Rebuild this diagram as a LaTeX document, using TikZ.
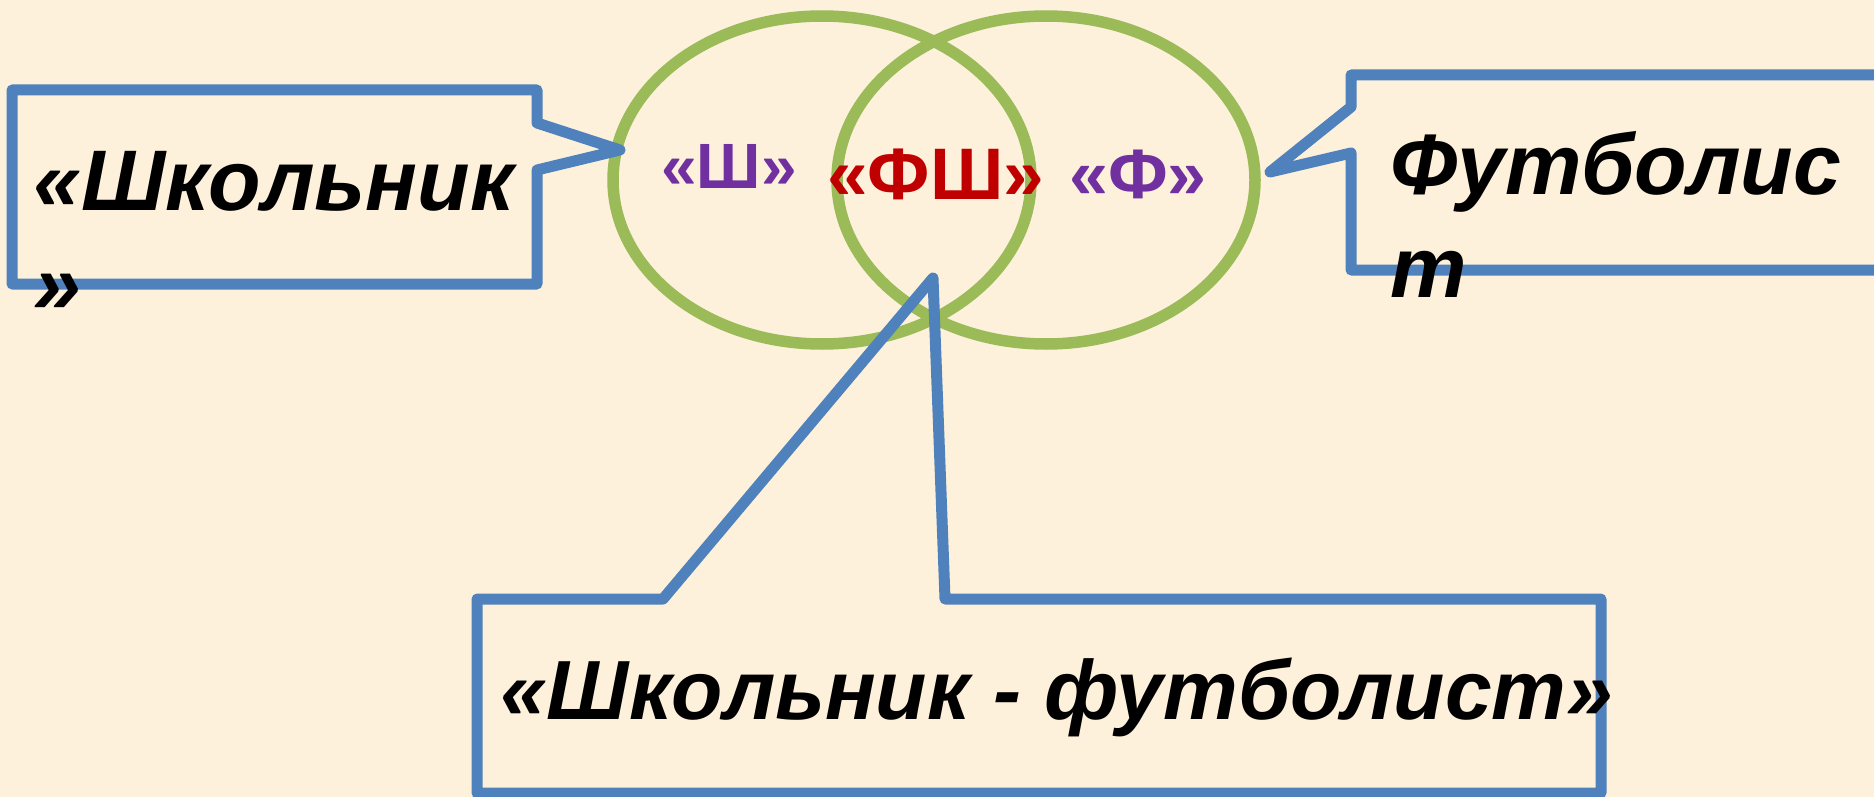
\documentclass[tikz,border=0pt]{standalone}
\usepackage{fontspec}
\setmainfont{Liberation Sans}
\usetikzlibrary{shapes.geometric}
\definecolor{bgcol}{RGB}{253,241,219}
\definecolor{callblue}{RGB}{79,129,189}
\definecolor{vgreen}{RGB}{155,187,89}
\definecolor{vpurple}{RGB}{112,48,160}
\definecolor{vred}{RGB}{192,0,0}
\tikzset{
  callbox/.style={draw=callblue, line width=11pt, line join=round},
  vset/.style={draw=vgreen, line width=11.5pt, ellipse, inner sep=0pt, minimum width=418pt, minimum height=328pt},
  bigtext/.style={font=\fontsize{86}{103}\selectfont\bfseries\itshape, text=black, inner sep=0pt, anchor=base west, align=left},
  settext/.style={font=\bfseries, inner sep=0pt, anchor=base west},
}
\begin{document}
\begin{tikzpicture}[x=1pt,y=-1pt]
\useasboundingbox (0,0) rectangle (1874,797);
\fill[bgcol] (0,0) rectangle (1874,797);
% Venn sets
\node[vset] (S) at (822,180) {};
\node[vset] (F) at (1046,180) {};
% labels inside sets
\node[settext, text=vpurple, font=\fontsize{64}{70}\selectfont\bfseries] (ls) at (661,189) {«Ш»};
\node[settext, text=vred, font=\fontsize{73}{80}\selectfont\bfseries] (lfs) at (827,199) {«ФШ»};
\node[settext, text=vpurple, font=\fontsize{70}{76}\selectfont\bfseries] (lf) at (1069,198) {«Ф»};
% pointer tips
\coordinate (tipS) at (620,150);
\coordinate (tipF) at (1270,172);
\coordinate (tipFS) at (933,278);
% left callout
\draw[callbox] (12,90) -- (537,90) -- (537,123) -- (tipS) -- (537,170) -- (537,284) -- (12,284) -- cycle;
\node[bigtext] (tS) at (33,313) {«Школьник\\»};
% right callout
\draw[callbox] (1351,75) -- (1885,75) -- (1885,270) -- (1351,270) -- (1351,153) -- (tipF) -- (1351,107) -- cycle;
\node[bigtext] (tF) at (1390,297) {Футболис\\т};
% bottom callout
\draw[callbox] (477,599) -- (663,599) -- (tipFS) -- (945,599) -- (1601,599) -- (1601,793) -- (477,793) -- cycle;
\node[bigtext, font=\fontsize{84}{100}\selectfont\bfseries\itshape] (tFS) at (500,719) {«Школьник - футболист»};
\end{tikzpicture}
\end{document}
